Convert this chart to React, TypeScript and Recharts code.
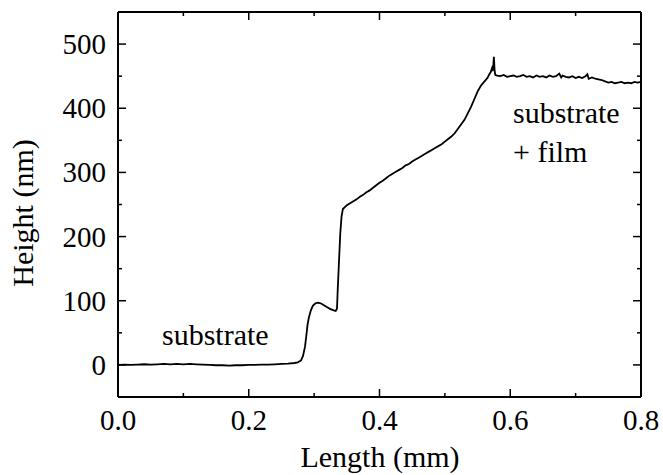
import React from 'react';
import { LineChart, Line, XAxis, YAxis } from 'recharts';

const lengthMm = [
  0, 0.01, 0.02, 0.03, 0.04, 0.05, 0.06, 0.07, 0.08, 0.09,
  0.1, 0.11, 0.12, 0.13, 0.14, 0.15, 0.16, 0.17, 0.18, 0.19,
  0.2, 0.21, 0.22, 0.23, 0.24, 0.25, 0.26, 0.27, 0.275, 0.28,
  0.283, 0.286, 0.288, 0.29, 0.292, 0.295, 0.298, 0.302, 0.306, 0.31,
  0.315, 0.32, 0.325, 0.33, 0.333, 0.335, 0.336, 0.338, 0.34, 0.342,
  0.344, 0.347, 0.35, 0.355, 0.36, 0.365, 0.37, 0.375, 0.38, 0.385,
  0.39, 0.395, 0.4, 0.405, 0.41, 0.415, 0.42, 0.425, 0.43, 0.435,
  0.44, 0.445, 0.45, 0.455, 0.46, 0.465, 0.47, 0.475, 0.48, 0.485,
  0.49, 0.495, 0.5, 0.505, 0.51, 0.515, 0.52, 0.525, 0.53, 0.535,
  0.54, 0.545, 0.55, 0.555, 0.56, 0.565, 0.568, 0.57, 0.572, 0.573,
  0.574, 0.575, 0.576, 0.577, 0.58, 0.585, 0.59, 0.595, 0.6, 0.605,
  0.61, 0.615, 0.62, 0.625, 0.63, 0.635, 0.64, 0.645, 0.65, 0.655,
  0.66, 0.665, 0.67, 0.675, 0.678, 0.68, 0.685, 0.69, 0.695, 0.7,
  0.705, 0.71, 0.715, 0.718, 0.72, 0.725, 0.73, 0.735, 0.74, 0.745,
  0.75, 0.755, 0.76, 0.765, 0.77, 0.775, 0.78, 0.785, 0.79, 0.795, 0.8,
];

const heightNm = [
  0, 0.5, 0, 0.5, 1, 0.5, 1, 1.5, 1, 1.5,
  1, 1.5, 1, 0.5, 0, -0.5, -0.5, -1, -0.5, -0.5,
  0, 0, 0.5, 0.5, 1, 1.5, 2, 3, 4, 7,
  14, 28, 45, 63, 74, 85, 92, 96, 97, 96,
  93, 90, 87, 85, 84, 88, 115, 160, 205, 232,
  243, 246, 249, 252, 255, 258, 262, 265, 269, 272,
  276, 280, 284, 287, 291, 295, 298, 301, 304, 307,
  311, 313, 317, 320, 323, 326, 329, 332, 335, 338,
  341, 344, 348, 352, 356, 361, 368, 375, 382, 392,
  402, 414, 426, 435, 441, 447, 453, 456, 462, 458,
  465, 480, 460, 452, 451, 450, 452, 449, 450, 451,
  449, 450, 452, 449, 450, 448, 451, 449, 450, 448,
  451, 449, 450, 454, 448, 451, 449, 448, 450, 447,
  449, 447, 450, 453, 446, 448, 446, 445, 444, 442,
  440, 441, 439, 440, 441, 439, 440, 439, 441, 440, 441,
];

const xTicks = [0, 0.1, 0.2, 0.3, 0.4, 0.5, 0.6, 0.7, 0.8];
const yTicks = [0, 50, 100, 150, 200, 250, 300, 350, 400, 450, 500];

const data = lengthMm.map((x, i) => ({ x, h: heightNm[i] }));

const FONT = '"Liberation Serif", "Times New Roman", serif';
const BASE_FS = 20;
const TICK_SCALE = 1.45;
const LABEL_SCALE = 1.5;

const SerifText = ({ x, y, scale, anchor = 'start', rotate = 0, children }: any) => (
  <text
    x={0}
    y={0}
    transform={`translate(${x},${y}) rotate(${rotate}) scale(${scale})`}
    textAnchor={anchor}
    fontSize={BASE_FS}
    fontFamily={FONT}
    fill="#000"
  >
    {children}
  </text>
);

const isMajorX = (v: number) => Math.round(v * 10) % 2 === 0;
const isMajorY = (v: number) => Math.round(v) % 100 === 0;

const BottomTick = (props: any) => {
  const { x, y, payload } = props;
  const v = payload.value;
  const major = isMajorX(v);
  return (
    <g>
      <line x1={x} x2={x} y1={y} y2={y - (major ? 8 : 4)} stroke="#000" strokeWidth={1.5} />
      {major && (
        <SerifText x={x} y={y + 33} scale={TICK_SCALE} anchor="middle">
          {v.toFixed(1)}
        </SerifText>
      )}
    </g>
  );
};

const TopTick = (props: any) => {
  const { x, y, payload } = props;
  const major = isMajorX(payload.value);
  return <line x1={x} x2={x} y1={y} y2={y + (major ? 8 : 4)} stroke="#000" strokeWidth={1.5} />;
};

const LeftTick = (props: any) => {
  const { x, y, payload } = props;
  const v = payload.value;
  const major = isMajorY(v);
  return (
    <g>
      <line x1={x} x2={x + (major ? 8 : 4)} y1={y} y2={y} stroke="#000" strokeWidth={1.5} />
      {major && (
        <SerifText x={x - 12} y={y + 10} scale={TICK_SCALE} anchor="end">
          {v}
        </SerifText>
      )}
    </g>
  );
};

const RightTick = (props: any) => {
  const { x, y, payload } = props;
  const major = isMajorY(payload.value);
  return <line x1={x} x2={x - (major ? 8 : 4)} y1={y} y2={y} stroke="#000" strokeWidth={1.5} />;
};

export default function App() {
  return (
    <div style={{ position: 'absolute', left: 0, top: 0, width: 663, height: 475, background: '#fff' }}>
      <LineChart
        width={663}
        height={475}
        data={data}
        margin={{ top: 11, right: 21, bottom: 0, left: 0 }}
      >
        <XAxis
          dataKey="x"
          type="number"
          domain={[0, 0.8]}
          ticks={xTicks}
          interval={0}
          height={78}
          tickSize={0}
          tickMargin={0}
          tickLine={false}
          axisLine={{ stroke: '#000', strokeWidth: 2 }}
          tick={BottomTick}
          allowDataOverflow
        />
        <XAxis
          xAxisId="top"
          orientation="top"
          dataKey="x"
          type="number"
          domain={[0, 0.8]}
          ticks={xTicks}
          interval={0}
          height={1}
          tickSize={0}
          tickMargin={0}
          tickLine={false}
          axisLine={{ stroke: '#000', strokeWidth: 2 }}
          tick={TopTick}
          allowDataOverflow
        />
        <YAxis
          type="number"
          domain={[-50, 550]}
          ticks={yTicks}
          interval={0}
          width={118}
          tickSize={0}
          tickMargin={0}
          tickLine={false}
          axisLine={{ stroke: '#000', strokeWidth: 2 }}
          tick={LeftTick}
          allowDataOverflow
        />
        <YAxis
          yAxisId="right"
          orientation="right"
          type="number"
          domain={[-50, 550]}
          ticks={yTicks}
          interval={0}
          width={1}
          tickSize={0}
          tickMargin={0}
          tickLine={false}
          axisLine={{ stroke: '#000', strokeWidth: 2 }}
          tick={RightTick}
          allowDataOverflow
        />
        <Line
          dataKey="h"
          type="linear"
          stroke="#000"
          strokeWidth={1.8}
          dot={false}
          isAnimationActive={false}
        />
        <SerifText x={380} y={467} scale={LABEL_SCALE} anchor="middle">Length (mm)</SerifText>
        <SerifText x={33} y={213} scale={LABEL_SCALE} anchor="middle" rotate={-90}>Height (nm)</SerifText>
        <SerifText x={162} y={345} scale={LABEL_SCALE}>substrate</SerifText>
        <SerifText x={513} y={123} scale={LABEL_SCALE}>substrate</SerifText>
        <SerifText x={513} y={162} scale={LABEL_SCALE}>+ film</SerifText>
      </LineChart>
    </div>
  );
}
